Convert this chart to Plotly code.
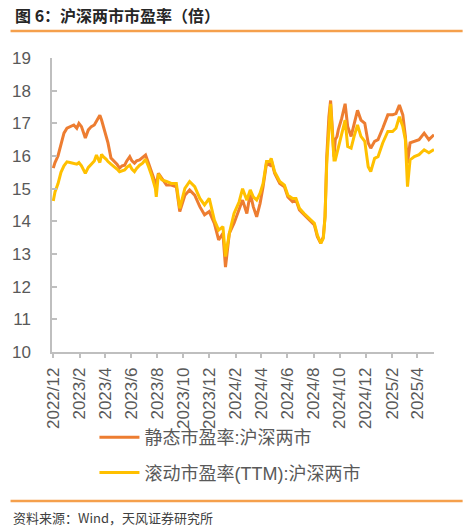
import plotly.graph_objects as go

# ---- data ----
dates = ["2022-12-01","2022-12-05","2022-12-12","2022-12-19","2022-12-26","2023-01-02","2023-01-09","2023-01-18","2023-01-25","2023-01-30",
         "2023-02-05","2023-02-14","2023-02-21","2023-02-28","2023-03-07","2023-03-12","2023-03-20","2023-03-24","2023-03-28","2023-04-04",
         "2023-04-08","2023-04-15","2023-04-24","2023-04-29","2023-05-05","2023-05-11","2023-05-17","2023-05-22","2023-05-29","2023-06-03",
         "2023-06-09","2023-06-14","2023-06-21","2023-06-28","2023-07-05","2023-07-12","2023-07-20","2023-07-28","2023-07-30","2023-08-04",
         "2023-08-12","2023-08-23","2023-09-03","2023-09-15","2023-09-23","2023-10-05","2023-10-16","2023-10-28","2023-11-09","2023-11-20",
         "2023-12-01","2023-12-13","2023-12-23","2024-01-02","2024-01-08","2024-01-17","2024-01-28","2024-02-09","2024-02-17","2024-02-27",
         "2024-03-06","2024-03-13","2024-03-21","2024-03-29","2024-04-05","2024-04-13","2024-04-21","2024-04-24","2024-05-02","2024-05-14",
         "2024-05-25","2024-06-02","2024-06-13","2024-06-21","2024-06-29","2024-07-10","2024-07-22","2024-08-03","2024-08-10","2024-08-18",
         "2024-08-24","2024-08-28","2024-09-01","2024-09-06","2024-09-10","2024-09-14","2024-09-18","2024-09-21","2024-09-25","2024-09-28",
         "2024-10-06","2024-10-14","2024-10-20","2024-10-28","2024-11-04","2024-11-12","2024-11-20","2024-11-29","2024-12-07","2024-12-13",
         "2024-12-22","2024-12-30","2025-01-10","2025-01-22","2025-02-02","2025-02-10","2025-02-18","2025-02-26","2025-03-04","2025-03-09",
         "2025-03-15","2025-03-25","2025-04-05","2025-04-17","2025-04-28","2025-05-10"]

pe_static = [15.63,15.8,16.0,16.4,16.7,16.85,16.9,16.95,16.85,17.0,
             16.9,16.55,16.8,16.9,16.95,17.05,17.25,17.1,16.9,16.6,
             16.4,15.94,15.83,15.75,15.63,15.7,15.72,15.85,15.98,15.85,
             15.78,15.85,15.88,15.95,16.03,15.78,15.47,15.16,15.1,15.47,
             15.32,15.11,15.11,15.06,14.3,14.8,14.96,14.8,14.45,14.2,
             14.3,13.94,13.43,13.63,12.6,13.63,13.94,14.35,14.65,14.24,
             14.86,14.45,14.14,14.55,15.06,15.78,15.72,15.88,15.47,15.16,
             15.06,14.75,14.6,14.65,14.35,14.2,14.04,13.89,13.53,13.33,
             13.53,14.14,15.98,17.2,17.7,16.8,15.98,16.5,16.6,16.8,
             17.15,17.6,16.9,16.6,17.0,17.4,17.1,17.0,16.4,16.24,
             16.45,16.5,16.85,17.26,17.26,17.3,17.56,17.26,16.6,15.78,
             16.4,16.45,16.5,16.7,16.5,16.65]

pe_ttm = [14.62,14.9,15.15,15.5,15.7,15.82,15.8,15.78,15.75,15.8,
          15.7,15.47,15.65,15.75,15.85,16.03,15.8,16.05,15.98,15.9,
          15.83,15.75,15.67,15.6,15.52,15.55,15.57,15.65,15.72,15.6,
          15.52,15.62,15.72,15.78,15.9,15.67,15.37,15.0,14.75,15.45,
          15.27,15.22,15.16,15.16,14.4,15.01,15.22,15.06,14.7,14.5,
          14.7,14.04,13.73,13.84,12.92,13.63,14.24,14.6,15.0,14.65,
          14.96,14.75,14.65,14.86,15.16,15.83,15.83,15.93,15.52,15.22,
          15.11,14.8,14.7,14.7,14.4,14.24,14.09,13.94,13.58,13.33,
          13.48,14.14,15.78,17.0,17.6,16.7,15.88,15.88,16.1,16.29,
          16.7,17.1,16.29,16.24,16.6,16.95,16.6,16.45,15.67,15.52,
          15.93,15.98,16.4,16.75,16.75,16.85,17.2,16.9,16.5,15.06,
          15.88,15.98,16.04,16.19,16.1,16.2]

tick_dates = ["2022-12-01","2023-02-01","2023-04-01","2023-06-01","2023-08-01","2023-10-01","2023-12-01",
              "2024-02-01","2024-04-01","2024-06-01","2024-08-01","2024-10-01","2024-12-01","2025-02-01","2025-04-01"]
tick_labels = ["2022/12","2023/2","2023/4","2023/6","2023/8","2023/10","2023/12",
               "2024/2","2024/4","2024/6","2024/8","2024/10","2024/12","2025/2","2025/4"]

series_names = ["静态市盈率:沪深两市", "滚动市盈率(TTM):沪深两市"]
title_text = "图 6：沪深两市市盈率（倍）"
source_text = "资料来源：Wind，天风证券研究所"

assert len(dates) == len(pe_static) == len(pe_ttm)

# ---- layout geometry (pixels) ----
W, H = 468, 529
ML, MR, MT, MB = 47, 34, 58, 177
PH = H - MT - MB
PW = W - ML - MR

def py(p):   # pixel y -> paper y
    return (H - MB - p) / PH

def px(p):   # pixel x -> paper x
    return (p - ML) / PW

FONT = "Liberation Sans, Arial, Noto Sans CJK SC, sans-serif"
GRAY = "#595959"
AXIS = "#BFBFBF"
ACCENT = "#F5A04C"

fig = go.Figure()
fig.add_trace(go.Scatter(x=dates, y=pe_static, mode="lines", name=series_names[0],
                         line=dict(color="#ED7D31", width=3), legendgroup="a"))
fig.add_trace(go.Scatter(x=dates, y=pe_ttm, mode="lines", name=series_names[1],
                         line=dict(color="#FFC000", width=3), legendgroup="b"))

fig.update_layout(
    width=W, height=H,
    margin=dict(l=ML, r=MR, t=MT, b=MB, pad=0),
    paper_bgcolor="white", plot_bgcolor="white",
    font=dict(family=FONT, color=GRAY),
    showlegend=True,
    legend=dict(x=px(90), y=py(419), xanchor="left", yanchor="top",
                orientation="v", traceorder="grouped", tracegroupgap=9,
                font=dict(size=18, color=GRAY, family=FONT),
                bgcolor="rgba(0,0,0,0)", itemwidth=40),
    xaxis=dict(type="date", range=["2022-11-28", "2025-05-10"],
               tickmode="array", tickvals=tick_dates, ticktext=tick_labels,
               tickangle=-90, tickfont=dict(size=17, color=GRAY),
               showline=True, linecolor=AXIS, linewidth=1.5,
               ticks="outside", ticklen=4, tickcolor=AXIS, tickwidth=1.5,
               showgrid=False, zeroline=False, ticklabelstandoff=3),
    yaxis=dict(range=[10, 19], tickmode="linear", tick0=10, dtick=1,
               tickfont=dict(size=17, color=GRAY),
               showline=True, linecolor=AXIS, linewidth=1.5,
               ticks="inside", ticklen=5, tickcolor=AXIS, tickwidth=1.5,
               showgrid=False, zeroline=False, ticklabelstandoff=16),
)

# header / footer
fig.add_annotation(text="<b>" + title_text + "</b>", xref="paper", yref="paper",
                   x=px(7), y=py(15), xanchor="left", yanchor="middle", showarrow=False,
                   font=dict(size=16, color="#262626", family="Noto Sans CJK SC, sans-serif"))
fig.add_annotation(text=source_text, xref="paper", yref="paper",
                   x=px(5), y=py(517), xanchor="left", yanchor="middle", showarrow=False,
                   font=dict(size=13, color="#404040", family="Noto Sans CJK SC, sans-serif"))
for yy in (31, 501):
    fig.add_shape(type="line", xref="paper", yref="paper",
                  x0=px(5), x1=px(463), y0=py(yy), y1=py(yy),
                  line=dict(color=ACCENT, width=2.5))

fig.write_html("out.html",
               config={"displayModeBar": False},
               post_script="document.body.style.margin='0';document.body.style.padding='0';"
                           "document.body.style.overflow='hidden';")
